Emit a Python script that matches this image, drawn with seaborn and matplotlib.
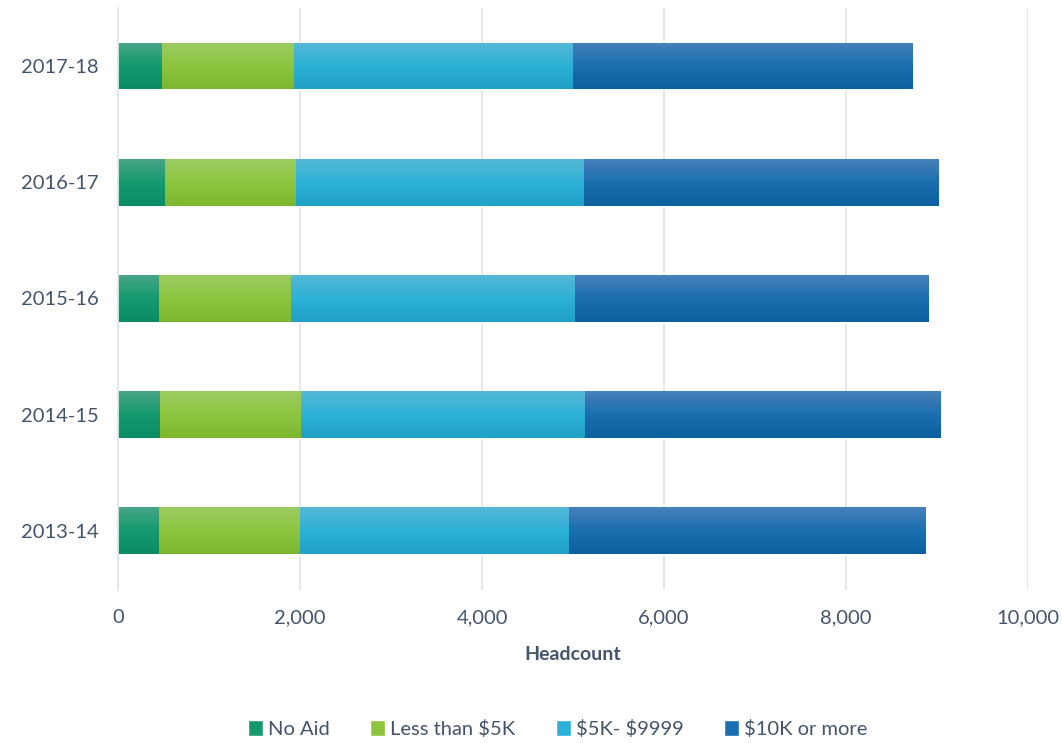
import numpy as np
import pandas as pd
import matplotlib
matplotlib.use('Agg')
import matplotlib.pyplot as plt
import seaborn as sns
from matplotlib.colors import LinearSegmentedColormap, to_rgba
from matplotlib.patches import Patch

sns.set_style('white')
plt.rcParams['font.family'] = ['Lato', 'DejaVu Sans']
plt.rcParams['text.parse_math'] = False

years = ['2017-18', '2016-17', '2015-16', '2014-15', '2013-14']
series = ['No Aid', 'Less than $5K', '$5K- $9999', '$10K or more']
no_aid = [480, 515, 450, 460, 440]
lt_5k = [1445, 1440, 1450, 1540, 1550]
k5_9999 = [3065, 3155, 3120, 3130, 2955]
k10_more = [3735, 3900, 3880, 3910, 3930]

# top / mid / bottom shades for the gradient fill of each segment
shades = {
    'No Aid': ('#48a688', '#15996f', '#0b8c66'),
    'Less than $5K': ('#9ccb62', '#8dc53e', '#7cb72f'),
    '$5K- $9999': ('#55b8d6', '#2db1d7', '#20a1c6'),
    '$10K or more': ('#4680b8', '#1a6fb0', '#0d609f'),
}

df = pd.DataFrame({'year': years, 'No Aid': no_aid, 'Less than $5K': lt_5k,
                   '$5K- $9999': k5_9999, '$10K or more': k10_more})
cum = df[series].cumsum(axis=1)

text_col = '#44546a'
grid_col = '#e2e5ea'

fig = plt.figure(figsize=(10.62, 7.43), dpi=100)
ax = fig.add_axes([0.1111, 0.206, 0.857, 0.783])

# draw largest cumulative first so smaller segments sit on top
for s in reversed(series):
    sns.barplot(x=cum[s], y=df['year'], order=years, orient='h',
                color=shades[s][1], width=0.4, ax=ax, saturation=1)

xlim = (0, 10000)
ylim = ax.get_ylim()

# vertical gradient on each bar
for patch in list(ax.patches):
    fc = patch.get_facecolor()
    name = None
    for s in series:
        if np.allclose(fc, to_rgba(shades[s][1])):
            name = s
    if name is None:
        continue
    cmap = LinearSegmentedColormap.from_list(name, shades[name])
    x0, y0 = patch.get_x(), patch.get_y()
    w, h = patch.get_width(), patch.get_height()
    grad = np.linspace(0, 1, 64).reshape(-1, 1)
    im = ax.imshow(grad, cmap=cmap, aspect='auto', origin='upper',
                   extent=(x0, x0 + w, y0 + h, y0), zorder=patch.get_zorder() + 0.01,
                   interpolation='bilinear')
    im.set_clip_path(patch)

ax.set_xlim(*xlim)
ax.set_ylim(ylim[0] + 0.01, ylim[1] + 0.01)

ax.set_xticks([0, 2000, 4000, 6000, 8000, 10000])
ax.set_xticklabels(['0', '2,000', '4,000', '6,000', '8,000', '10,000'])
ax.xaxis.grid(True, color=grid_col, linewidth=1.3)
ax.set_axisbelow(True)
ax.tick_params(axis='x', length=0, pad=14, labelsize=14.5, labelcolor=text_col)
ax.tick_params(axis='y', which='major', length=0, pad=14, labelsize=14.5, labelcolor=text_col)
ax.set_yticks(np.arange(-0.5, len(years), 1), minor=True)
ax.tick_params(axis='y', which='minor', length=9, color=grid_col, width=1.3)

for sp in ['top', 'right', 'bottom']:
    ax.spines[sp].set_visible(False)
ax.spines['left'].set_color(grid_col)
ax.spines['left'].set_linewidth(1.3)

ax.set_ylabel('')
ax.set_xlabel('Headcount', fontsize=14, fontweight='bold', color=text_col, labelpad=14)

handles = [Patch(facecolor=shades[s][1], label=s) for s in series]
fig.legend(handles=handles, loc='lower center', ncol=4, frameon=False,
           bbox_to_anchor=(0.525, -0.017), fontsize=14.5, handlelength=0.75,
           handleheight=0.85, handletextpad=0.25, columnspacing=2.0,
           labelcolor=text_col)

fig.savefig('out.png', dpi=100)
